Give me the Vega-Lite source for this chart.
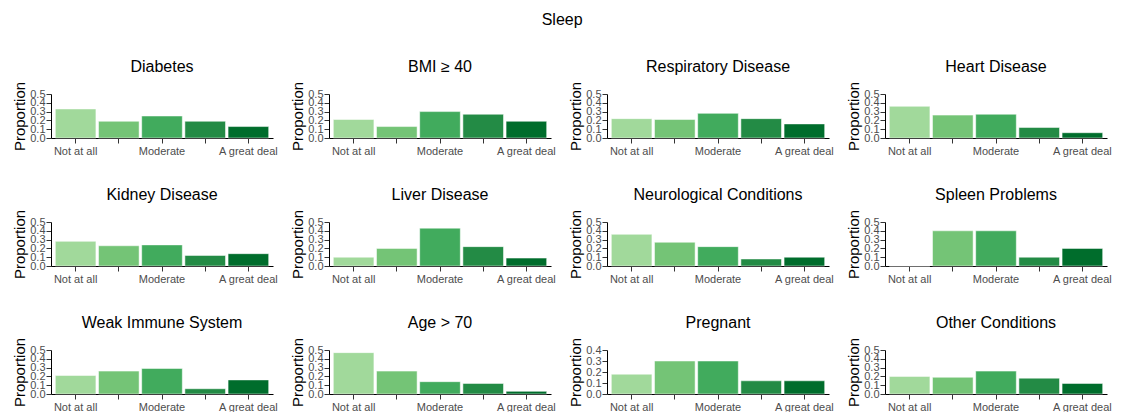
{
  "$schema": "https://vega.github.io/schema/vega-lite/v6.json",
  "background": "white",
  "padding": {"left": 12, "top": 12, "right": 2, "bottom": 0},
  "title": {"text": "Sleep", "font": "Liberation Sans", "fontSize": 16, "fontWeight": "normal", "anchor": "middle", "offset": 31},
  "config": {
    "font": "Liberation Sans",
    "view": {"stroke": null},
    "axis": {"grid": false, "domainColor": "#000", "tickColor": "#333", "labelColor": "#4d4d4d", "labelFont": "Liberation Sans", "labelFontSize": 11, "labelOverlap": false, "labelBound": false, "titleFont": "Liberation Sans", "titleFontWeight": "normal", "titleFontSize": 15, "titleColor": "#000"},
    "header": {"labelFont": "Liberation Sans", "labelFontSize": 16, "labelColor": "#000", "labelPadding": 6}
  },
  "data": {"values": [
    {"panel": "Diabetes", "level": "Not at all", "p": 0.33, "ymax": 0.5},
    {"panel": "Diabetes", "level": "A little", "p": 0.19, "ymax": 0.5},
    {"panel": "Diabetes", "level": "Moderate", "p": 0.25, "ymax": 0.5},
    {"panel": "Diabetes", "level": "A lot", "p": 0.19, "ymax": 0.5},
    {"panel": "Diabetes", "level": "A great deal", "p": 0.13, "ymax": 0.5},
    {"panel": "BMI ≥ 40", "level": "Not at all", "p": 0.21, "ymax": 0.5},
    {"panel": "BMI ≥ 40", "level": "A little", "p": 0.13, "ymax": 0.5},
    {"panel": "BMI ≥ 40", "level": "Moderate", "p": 0.30, "ymax": 0.5},
    {"panel": "BMI ≥ 40", "level": "A lot", "p": 0.27, "ymax": 0.5},
    {"panel": "BMI ≥ 40", "level": "A great deal", "p": 0.19, "ymax": 0.5},
    {"panel": "Respiratory Disease", "level": "Not at all", "p": 0.22, "ymax": 0.5},
    {"panel": "Respiratory Disease", "level": "A little", "p": 0.21, "ymax": 0.5},
    {"panel": "Respiratory Disease", "level": "Moderate", "p": 0.28, "ymax": 0.5},
    {"panel": "Respiratory Disease", "level": "A lot", "p": 0.22, "ymax": 0.5},
    {"panel": "Respiratory Disease", "level": "A great deal", "p": 0.16, "ymax": 0.5},
    {"panel": "Heart Disease", "level": "Not at all", "p": 0.36, "ymax": 0.5},
    {"panel": "Heart Disease", "level": "A little", "p": 0.26, "ymax": 0.5},
    {"panel": "Heart Disease", "level": "Moderate", "p": 0.27, "ymax": 0.5},
    {"panel": "Heart Disease", "level": "A lot", "p": 0.12, "ymax": 0.5},
    {"panel": "Heart Disease", "level": "A great deal", "p": 0.06, "ymax": 0.5},
    {"panel": "Kidney Disease", "level": "Not at all", "p": 0.28, "ymax": 0.5},
    {"panel": "Kidney Disease", "level": "A little", "p": 0.23, "ymax": 0.5},
    {"panel": "Kidney Disease", "level": "Moderate", "p": 0.24, "ymax": 0.5},
    {"panel": "Kidney Disease", "level": "A lot", "p": 0.12, "ymax": 0.5},
    {"panel": "Kidney Disease", "level": "A great deal", "p": 0.14, "ymax": 0.5},
    {"panel": "Liver Disease", "level": "Not at all", "p": 0.10, "ymax": 0.5},
    {"panel": "Liver Disease", "level": "A little", "p": 0.20, "ymax": 0.5},
    {"panel": "Liver Disease", "level": "Moderate", "p": 0.43, "ymax": 0.5},
    {"panel": "Liver Disease", "level": "A lot", "p": 0.22, "ymax": 0.5},
    {"panel": "Liver Disease", "level": "A great deal", "p": 0.09, "ymax": 0.5},
    {"panel": "Neurological Conditions", "level": "Not at all", "p": 0.36, "ymax": 0.5},
    {"panel": "Neurological Conditions", "level": "A little", "p": 0.27, "ymax": 0.5},
    {"panel": "Neurological Conditions", "level": "Moderate", "p": 0.22, "ymax": 0.5},
    {"panel": "Neurological Conditions", "level": "A lot", "p": 0.08, "ymax": 0.5},
    {"panel": "Neurological Conditions", "level": "A great deal", "p": 0.10, "ymax": 0.5},
    {"panel": "Spleen Problems", "level": "Not at all", "p": 0.0, "ymax": 0.5},
    {"panel": "Spleen Problems", "level": "A little", "p": 0.40, "ymax": 0.5},
    {"panel": "Spleen Problems", "level": "Moderate", "p": 0.40, "ymax": 0.5},
    {"panel": "Spleen Problems", "level": "A lot", "p": 0.10, "ymax": 0.5},
    {"panel": "Spleen Problems", "level": "A great deal", "p": 0.20, "ymax": 0.5},
    {"panel": "Weak Immune System", "level": "Not at all", "p": 0.21, "ymax": 0.5},
    {"panel": "Weak Immune System", "level": "A little", "p": 0.26, "ymax": 0.5},
    {"panel": "Weak Immune System", "level": "Moderate", "p": 0.29, "ymax": 0.5},
    {"panel": "Weak Immune System", "level": "A lot", "p": 0.06, "ymax": 0.5},
    {"panel": "Weak Immune System", "level": "A great deal", "p": 0.16, "ymax": 0.5},
    {"panel": "Age > 70", "level": "Not at all", "p": 0.47, "ymax": 0.5},
    {"panel": "Age > 70", "level": "A little", "p": 0.26, "ymax": 0.5},
    {"panel": "Age > 70", "level": "Moderate", "p": 0.14, "ymax": 0.5},
    {"panel": "Age > 70", "level": "A lot", "p": 0.12, "ymax": 0.5},
    {"panel": "Age > 70", "level": "A great deal", "p": 0.03, "ymax": 0.5},
    {"panel": "Pregnant", "level": "Not at all", "p": 0.18, "ymax": 0.4},
    {"panel": "Pregnant", "level": "A little", "p": 0.30, "ymax": 0.4},
    {"panel": "Pregnant", "level": "Moderate", "p": 0.30, "ymax": 0.4},
    {"panel": "Pregnant", "level": "A lot", "p": 0.12, "ymax": 0.4},
    {"panel": "Pregnant", "level": "A great deal", "p": 0.12, "ymax": 0.4},
    {"panel": "Other Conditions", "level": "Not at all", "p": 0.20, "ymax": 0.5},
    {"panel": "Other Conditions", "level": "A little", "p": 0.19, "ymax": 0.5},
    {"panel": "Other Conditions", "level": "Moderate", "p": 0.26, "ymax": 0.5},
    {"panel": "Other Conditions", "level": "A lot", "p": 0.18, "ymax": 0.5},
    {"panel": "Other Conditions", "level": "A great deal", "p": 0.12, "ymax": 0.5}
  ]},
  "facet": {
    "field": "panel", "type": "nominal", "title": null,
    "sort": ["Diabetes", "BMI ≥ 40", "Respiratory Disease", "Heart Disease", "Kidney Disease", "Liver Disease", "Neurological Conditions", "Spleen Problems", "Weak Immune System", "Age > 70", "Pregnant", "Other Conditions"]
  },
  "columns": 4,
  "spacing": {"column": 12, "row": 31},
  "resolve": {"scale": {"y": "independent"}, "axis": {"x": "independent", "y": "independent"}},
  "spec": {
    "width": 222,
    "height": 44,
    "encoding": {
      "x": {
        "field": "level", "type": "ordinal",
        "sort": ["Not at all", "A little", "Moderate", "A lot", "A great deal"],
        "scale": {"paddingInner": 0.06, "paddingOuter": 0.1},
        "axis": {"title": null, "labelAngle": 0, "labelPadding": 2, "labelExpr": "datum.value == 'A little' || datum.value == 'A lot' ? '' : datum.value"}
      }
    },
    "layer": [
      {
        "mark": {"type": "bar", "stroke": "white", "strokeWidth": 0.5},
        "encoding": {
          "y": {"field": "p", "type": "quantitative", "title": "Proportion", "scale": {"nice": false, "zero": true}, "axis": {"values": [0, 0.1, 0.2, 0.3, 0.4, 0.5], "format": ".1f", "labelPadding": 1, "titlePadding": 2, "labelOverlap": false, "labelFontSize": 11}},
          "color": {
            "field": "level", "type": "ordinal", "legend": null,
            "sort": ["Not at all", "A little", "Moderate", "A lot", "A great deal"],
            "scale": {"range": ["#a1d99b", "#74c476", "#41ab5d", "#238b45", "#006d2c"]}
          }
        }
      },
      {
        "mark": {"type": "tick", "opacity": 0},
        "encoding": {"y": {"field": "ymax", "type": "quantitative", "axis": {"values": [0, 0.1, 0.2, 0.3, 0.4, 0.5], "format": ".1f", "labelOverlap": false}}}
      }
    ]
  }
}
